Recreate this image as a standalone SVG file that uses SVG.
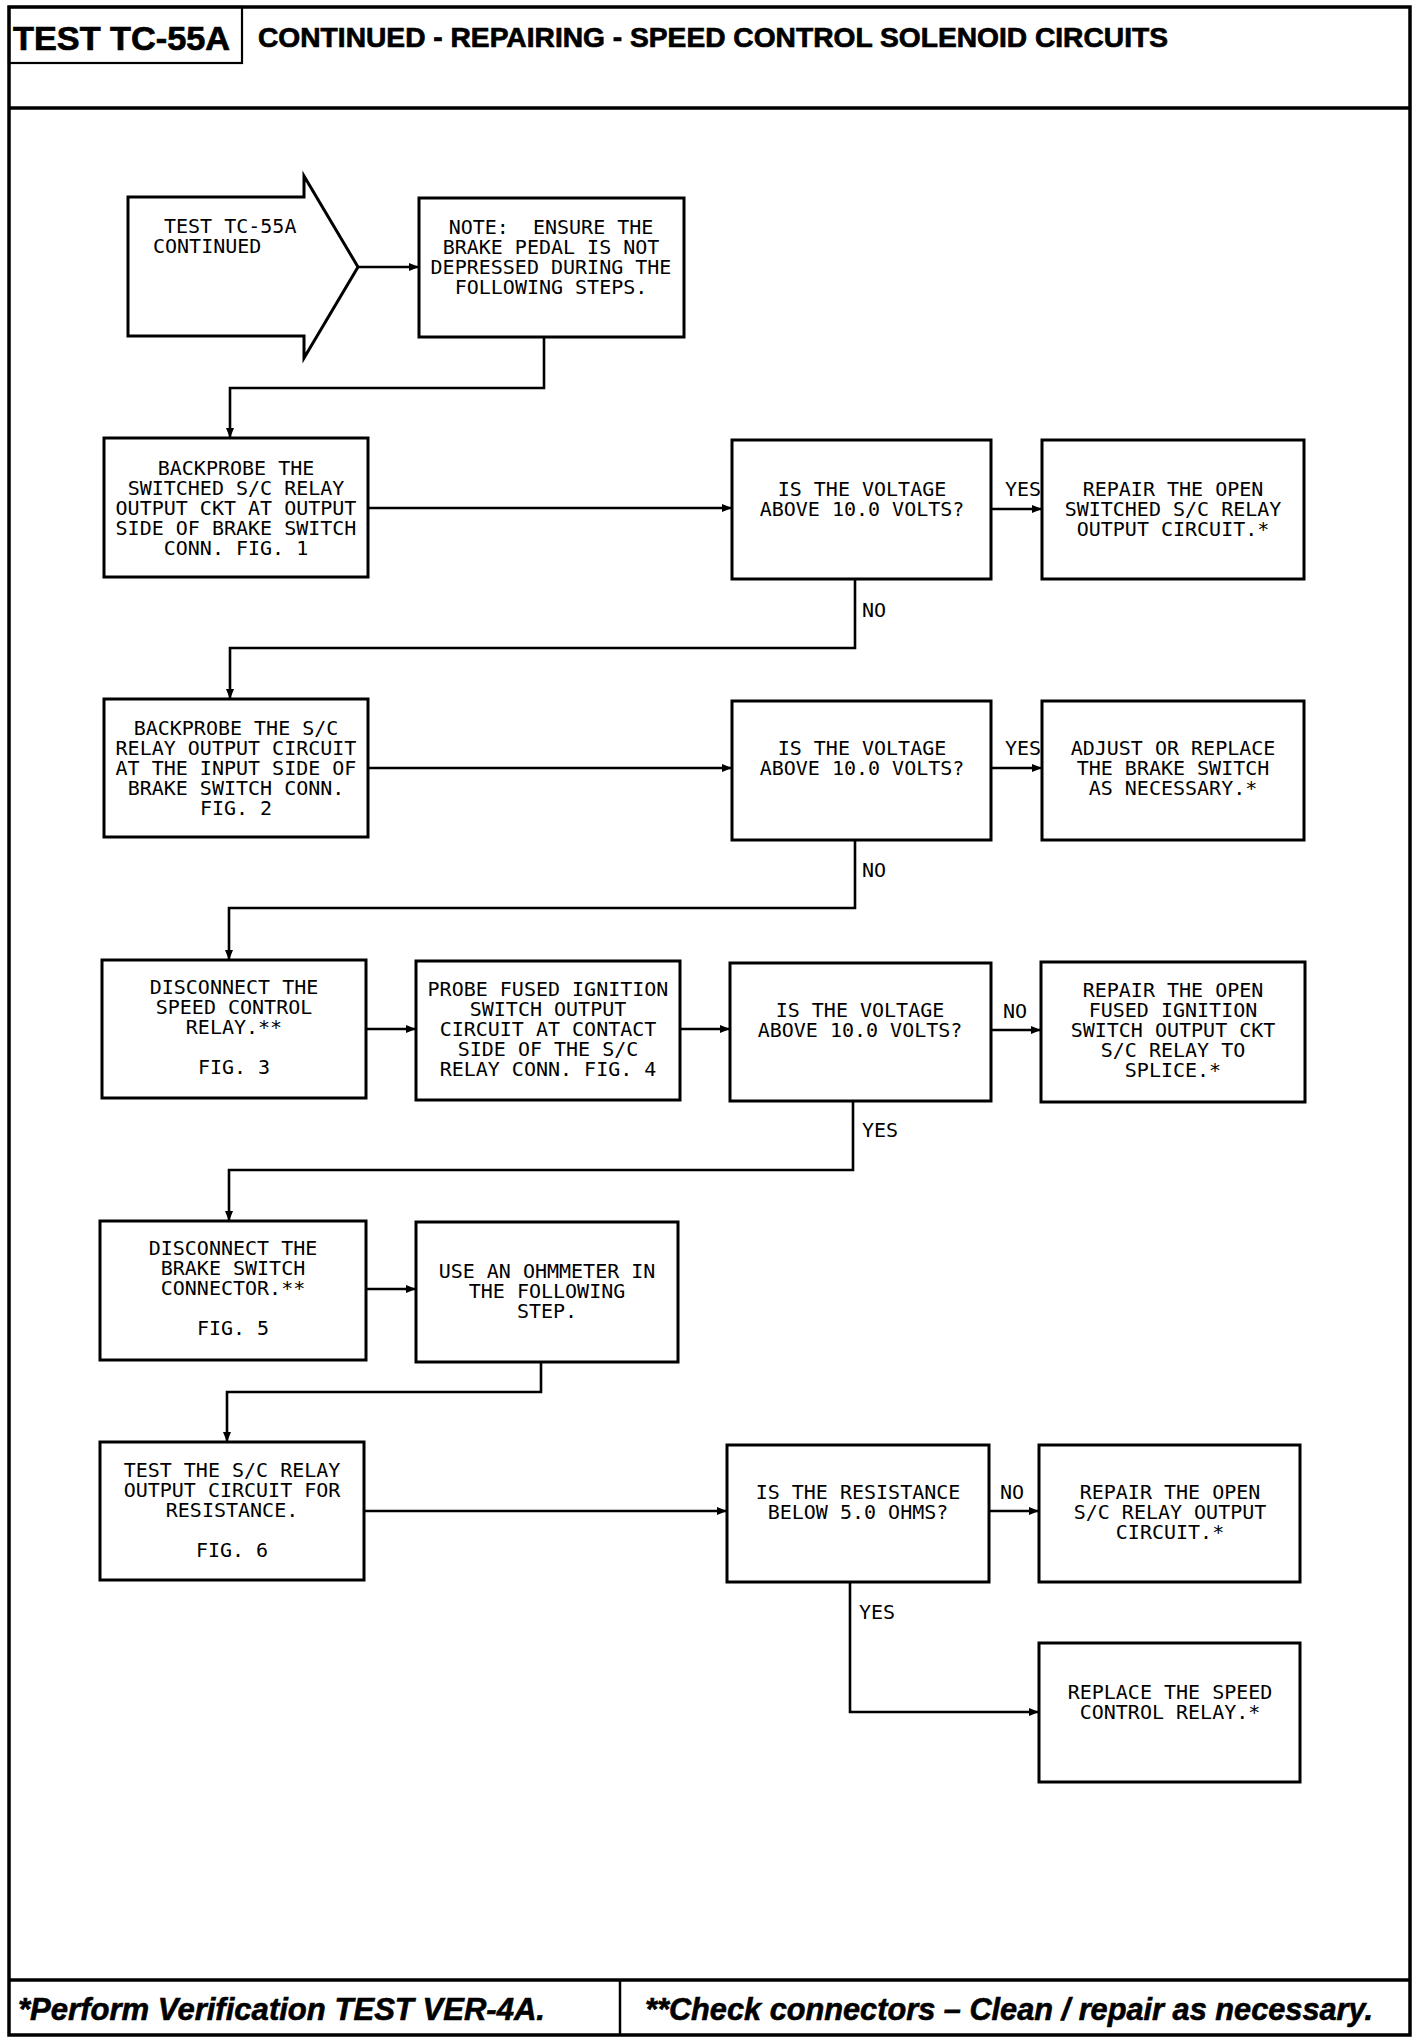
<svg xmlns="http://www.w3.org/2000/svg" width="1424" height="2042" viewBox="0 0 1424 2042">
<style>
.frame{fill:none;stroke:#000;stroke-width:3.5}
.box{fill:#fff;stroke:#000;stroke-width:3}
.con{fill:none;stroke:#000;stroke-width:2.6}
.t{font-family:"DejaVu Sans Mono","Liberation Mono",monospace;font-size:20px;fill:#000;text-anchor:middle}
.l{font-family:"DejaVu Sans Mono","Liberation Mono",monospace;font-size:20px;fill:#000}
.h{font-family:"Liberation Sans",Arial,sans-serif;font-weight:bold;fill:#000;stroke:#000;stroke-width:0.7}
.f{font-family:"Liberation Sans",Arial,sans-serif;font-weight:bold;font-style:italic;font-size:31px;fill:#000;stroke:#000;stroke-width:0.6}
</style>
<defs>
<marker id="ah" markerUnits="userSpaceOnUse" markerWidth="12" markerHeight="10" refX="10" refY="4" orient="auto">
<path d="M0,0 L10,4 L0,8 z" fill="#000"/>
</marker>
</defs>
<rect width="1424" height="2042" fill="#fff"/>
<g id="frame">
<rect class="frame" x="9" y="7" width="1401" height="2028"/>
<line class="frame" x1="9" y1="108" x2="1410" y2="108"/>
<rect x="9" y="7" width="233" height="56" fill="none" stroke="#000" stroke-width="2.2"/>
<text class="h" x="13" y="50" font-size="33" textLength="217" lengthAdjust="spacingAndGlyphs">TEST TC-55A</text>
<text class="h" x="258" y="47" font-size="28" textLength="910" lengthAdjust="spacingAndGlyphs">CONTINUED - REPAIRING - SPEED CONTROL SOLENOID CIRCUITS</text>
<line class="frame" x1="9" y1="1980" x2="1410" y2="1980"/>
<line x1="620" y1="1980" x2="620" y2="2035" stroke="#000" stroke-width="2.5"/>
<text class="f" x="18" y="2020" textLength="527" lengthAdjust="spacingAndGlyphs">*Perform Verification TEST VER-4A.</text>
<text class="f" x="645" y="2020" textLength="728" lengthAdjust="spacingAndGlyphs">**Check connectors – Clean / repair as necessary.</text>
</g>
<g id="connectors">
<line class="con" x1="358" y1="267" x2="419" y2="267" marker-end="url(#ah)"/>
<polyline class="con" points="544,337 544,388 230,388 230,438" marker-end="url(#ah)"/>
<line class="con" x1="368" y1="508" x2="732" y2="508" marker-end="url(#ah)"/>
<line class="con" x1="991" y1="509" x2="1042" y2="509" marker-end="url(#ah)"/>
<text class="l" x="1005" y="496">YES</text>
<polyline class="con" points="855,579 855,648 230,648 230,699" marker-end="url(#ah)"/>
<text class="l" x="862" y="617">NO</text>
<line class="con" x1="368" y1="768" x2="732" y2="768" marker-end="url(#ah)"/>
<line class="con" x1="991" y1="768" x2="1042" y2="768" marker-end="url(#ah)"/>
<text class="l" x="1005" y="755">YES</text>
<polyline class="con" points="855,840 855,908 229,908 229,960" marker-end="url(#ah)"/>
<text class="l" x="862" y="877">NO</text>
<line class="con" x1="366" y1="1029" x2="416" y2="1029" marker-end="url(#ah)"/>
<line class="con" x1="680" y1="1029" x2="730" y2="1029" marker-end="url(#ah)"/>
<line class="con" x1="991" y1="1030" x2="1041" y2="1030" marker-end="url(#ah)"/>
<text class="l" x="1003" y="1018">NO</text>
<polyline class="con" points="853,1101 853,1170 229,1170 229,1221" marker-end="url(#ah)"/>
<text class="l" x="862" y="1137">YES</text>
<line class="con" x1="366" y1="1289" x2="416" y2="1289" marker-end="url(#ah)"/>
<polyline class="con" points="541,1362 541,1392 227,1392 227,1442" marker-end="url(#ah)"/>
<line class="con" x1="364" y1="1511" x2="727" y2="1511" marker-end="url(#ah)"/>
<line class="con" x1="989" y1="1511" x2="1039" y2="1511" marker-end="url(#ah)"/>
<text class="l" x="1000" y="1499">NO</text>
<polyline class="con" points="850,1582 850,1712 1039,1712" marker-end="url(#ah)"/>
<text class="l" x="859" y="1619">YES</text>
</g>
<g id="start">
<polygon class="box" points="128,197 304,197 304,176 358,267 304,358 304,336 128,336"/>
<text class="l" x="164" y="233">TEST TC-55A</text>
<text class="l" x="153" y="253">CONTINUED</text>
</g>
<g id="note">
<rect class="box" x="419" y="198" width="265" height="139"/>
<text class="t" x="551" y="234" xml:space="preserve">NOTE:  ENSURE THE</text>
<text class="t" x="551" y="254">BRAKE PEDAL IS NOT</text>
<text class="t" x="551" y="274">DEPRESSED DURING THE</text>
<text class="t" x="551" y="294">FOLLOWING STEPS.</text>
</g>
<g id="step1">
<rect class="box" x="104" y="438" width="264" height="139"/>
<text class="t" x="236" y="475">BACKPROBE THE</text>
<text class="t" x="236" y="495">SWITCHED S/C RELAY</text>
<text class="t" x="236" y="515">OUTPUT CKT AT OUTPUT</text>
<text class="t" x="236" y="535">SIDE OF BRAKE SWITCH</text>
<text class="t" x="236" y="555">CONN. FIG. 1</text>
</g>
<g id="q1">
<rect class="box" x="732" y="440" width="259" height="139"/>
<text class="t" x="862" y="496">IS THE VOLTAGE</text>
<text class="t" x="862" y="516">ABOVE 10.0 VOLTS?</text>
</g>
<g id="r1">
<rect class="box" x="1042" y="440" width="262" height="139"/>
<text class="t" x="1173" y="496">REPAIR THE OPEN</text>
<text class="t" x="1173" y="516">SWITCHED S/C RELAY</text>
<text class="t" x="1173" y="536">OUTPUT CIRCUIT.*</text>
</g>
<g id="step2">
<rect class="box" x="104" y="699" width="264" height="138"/>
<text class="t" x="236" y="735">BACKPROBE THE S/C</text>
<text class="t" x="236" y="755">RELAY OUTPUT CIRCUIT</text>
<text class="t" x="236" y="775">AT THE INPUT SIDE OF</text>
<text class="t" x="236" y="795">BRAKE SWITCH CONN.</text>
<text class="t" x="236" y="815">FIG. 2</text>
</g>
<g id="q2">
<rect class="box" x="732" y="701" width="259" height="139"/>
<text class="t" x="862" y="755">IS THE VOLTAGE</text>
<text class="t" x="862" y="775">ABOVE 10.0 VOLTS?</text>
</g>
<g id="r2">
<rect class="box" x="1042" y="701" width="262" height="139"/>
<text class="t" x="1173" y="755">ADJUST OR REPLACE</text>
<text class="t" x="1173" y="775">THE BRAKE SWITCH</text>
<text class="t" x="1173" y="795">AS NECESSARY.*</text>
</g>
<g id="step3">
<rect class="box" x="102" y="960" width="264" height="138"/>
<text class="t" x="234" y="994">DISCONNECT THE</text>
<text class="t" x="234" y="1014">SPEED CONTROL</text>
<text class="t" x="234" y="1034">RELAY.**</text>
<text class="t" x="234" y="1074">FIG. 3</text>
</g>
<g id="step4">
<rect class="box" x="416" y="961" width="264" height="139"/>
<text class="t" x="548" y="996">PROBE FUSED IGNITION</text>
<text class="t" x="548" y="1016">SWITCH OUTPUT</text>
<text class="t" x="548" y="1036">CIRCUIT AT CONTACT</text>
<text class="t" x="548" y="1056">SIDE OF THE S/C</text>
<text class="t" x="548" y="1076">RELAY CONN. FIG. 4</text>
</g>
<g id="q3">
<rect class="box" x="730" y="963" width="261" height="138"/>
<text class="t" x="860" y="1017">IS THE VOLTAGE</text>
<text class="t" x="860" y="1037">ABOVE 10.0 VOLTS?</text>
</g>
<g id="r3">
<rect class="box" x="1041" y="962" width="264" height="140"/>
<text class="t" x="1173" y="997">REPAIR THE OPEN</text>
<text class="t" x="1173" y="1017">FUSED IGNITION</text>
<text class="t" x="1173" y="1037">SWITCH OUTPUT CKT</text>
<text class="t" x="1173" y="1057">S/C RELAY TO</text>
<text class="t" x="1173" y="1077">SPLICE.*</text>
</g>
<g id="step5">
<rect class="box" x="100" y="1221" width="266" height="139"/>
<text class="t" x="233" y="1255">DISCONNECT THE</text>
<text class="t" x="233" y="1275">BRAKE SWITCH</text>
<text class="t" x="233" y="1295">CONNECTOR.**</text>
<text class="t" x="233" y="1335">FIG. 5</text>
</g>
<g id="step6">
<rect class="box" x="416" y="1222" width="262" height="140"/>
<text class="t" x="547" y="1278">USE AN OHMMETER IN</text>
<text class="t" x="547" y="1298">THE FOLLOWING</text>
<text class="t" x="547" y="1318">STEP.</text>
</g>
<g id="step7">
<rect class="box" x="100" y="1442" width="264" height="138"/>
<text class="t" x="232" y="1477">TEST THE S/C RELAY</text>
<text class="t" x="232" y="1497">OUTPUT CIRCUIT FOR</text>
<text class="t" x="232" y="1517">RESISTANCE.</text>
<text class="t" x="232" y="1557">FIG. 6</text>
</g>
<g id="q5">
<rect class="box" x="727" y="1445" width="262" height="137"/>
<text class="t" x="858" y="1499">IS THE RESISTANCE</text>
<text class="t" x="858" y="1519">BELOW 5.0 OHMS?</text>
</g>
<g id="r5">
<rect class="box" x="1039" y="1445" width="261" height="137"/>
<text class="t" x="1170" y="1499">REPAIR THE OPEN</text>
<text class="t" x="1170" y="1519">S/C RELAY OUTPUT</text>
<text class="t" x="1170" y="1539">CIRCUIT.*</text>
</g>
<g id="r6">
<rect class="box" x="1039" y="1643" width="261" height="139"/>
<text class="t" x="1170" y="1699">REPLACE THE SPEED</text>
<text class="t" x="1170" y="1719">CONTROL RELAY.*</text>
</g>
</svg>
